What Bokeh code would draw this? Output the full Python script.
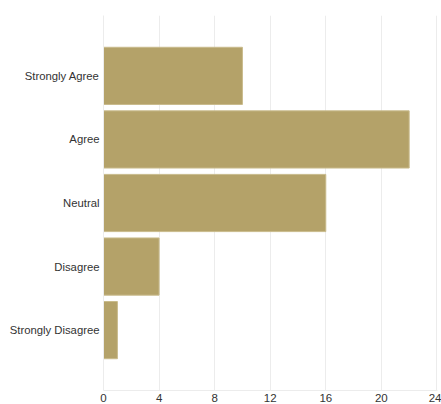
from bokeh.plotting import figure
from bokeh.models import FactorRange, Range1d, FixedTicker, ColumnDataSource
from bokeh.embed import file_html
from bokeh.resources import INLINE

# Survey responses, top to bottom
responses = ["Strongly Agree", "Agree", "Neutral", "Disagree", "Strongly Disagree"]
counts = [10, 22, 16, 4, 1]
x_ticks = [0, 4, 8, 12, 16, 20, 24]

source = ColumnDataSource(data=dict(response=responses, count=counts))

y_range = FactorRange(factors=list(reversed(responses)),
                      range_padding=0.45, range_padding_units="absolute")

# end nudged just past 24 so its gridline stays inside the frame
p = figure(width=441, height=404, y_range=y_range, x_range=Range1d(0, 24.04),
           output_backend="svg", toolbar_location=None,
           min_border_left=103, min_border_right=4,
           min_border_top=15, min_border_bottom=14)

p.hbar(y="response", right="count", left=0, height=0.9, source=source,
       fill_color="#b4a269", line_color="#c9bb8c", line_width=1)

p.outline_line_color = None
p.background_fill_color = "white"
p.border_fill_color = "white"

# Horizontal value axis
p.xaxis.ticker = FixedTicker(ticks=x_ticks)
p.xaxis.axis_line_color = "#ececec"
p.xaxis.major_tick_line_color = None
p.xaxis.minor_tick_line_color = None
p.xaxis.major_tick_out = 0
p.xaxis.major_tick_in = 0
p.xaxis.major_label_standoff = 3
p.xaxis.major_label_text_font = "Liberation Sans"
p.xaxis.major_label_text_font_size = "11.5px"
p.xaxis.major_label_text_color = "#333333"

# Category axis; its line doubles as the zero gridline
p.yaxis.axis_line_color = "#ececec"
p.yaxis.major_tick_line_color = None
p.yaxis.minor_tick_line_color = None
p.yaxis.major_tick_out = 0
p.yaxis.major_tick_in = 0
p.yaxis.major_label_standoff = 4
p.yaxis.major_label_text_font = "Liberation Sans"
p.yaxis.major_label_text_font_size = "11.3px"
p.yaxis.major_label_text_color = "#333333"

p.xgrid.ticker = FixedTicker(ticks=x_ticks)
p.xgrid.grid_line_color = "#ececec"
p.ygrid.grid_line_color = None

open("out.html", "w").write(file_html(p, INLINE))
